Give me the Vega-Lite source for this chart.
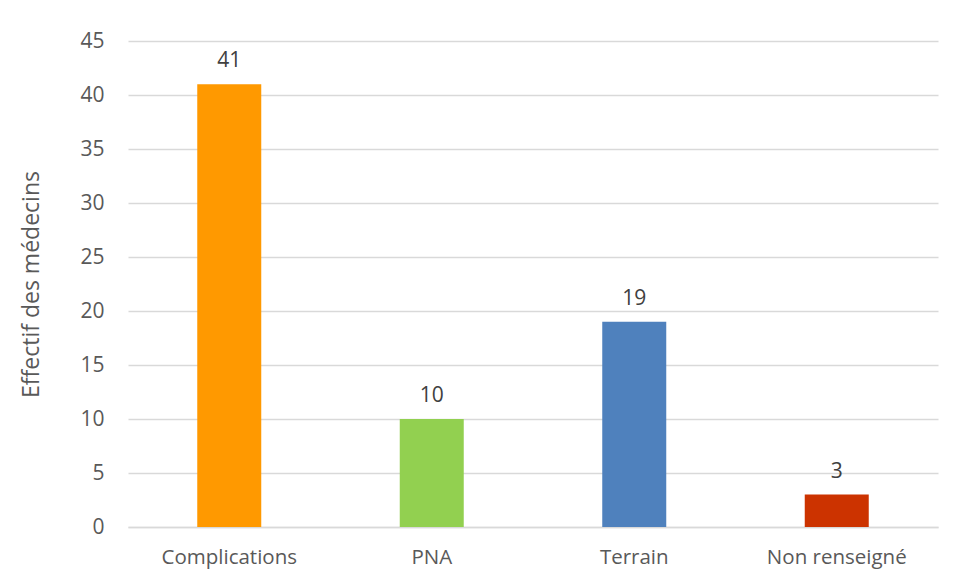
{
  "$schema": "https://vega.github.io/schema/vega-lite/v6.json",
  "autosize": "none",
  "width": 810,
  "height": 486,
  "padding": {"left": 128, "top": 41, "right": 16, "bottom": 51},
  "background": "white",
  "config": {"view": {"stroke": null}, "font": "Open Sans"},
  "data": {"values": [
    {"cat": "Complications", "n": 41, "color": "#FF9900"},
    {"cat": "PNA", "n": 10, "color": "#92D050"},
    {"cat": "Terrain", "n": 19, "color": "#4F81BD"},
    {"cat": "Non renseigné", "n": 3, "color": "#CC3300"}
  ]},
  "encoding": {
    "x": {"field": "cat", "type": "nominal", "sort": null,
      "axis": {"title": null, "labelAngle": 0, "labelFontSize": 20.5, "labelColor": "#595959", "labelPadding": 20, "ticks": false, "domainColor": "#D9D9D9", "domainWidth": 1.5, "labelFont": "Open Sans"}},
    "y": {"field": "n", "type": "quantitative", "scale": {"domain": [0, 45]},
      "axis": {"values": [0,5,10,15,20,25,30,35,40,45], "title": "Effectif des médecins", "titleFontSize": 23, "titleFontWeight": "normal", "titleColor": "#595959", "titlePadding": 36, "labelFontSize": 21, "labelColor": "#595959", "labelPadding": 24, "ticks": false, "domain": false, "gridColor": "#D9D9D9", "gridWidth": 1.5, "labelFont": "Open Sans", "titleFont": "Open Sans"}}
  },
  "layer": [
    {"mark": {"type": "bar", "width": 64}, "encoding": {"color": {"field": "color", "type": "nominal", "scale": null}}},
    {"mark": {"type": "text", "baseline": "alphabetic", "dy": -17, "fontSize": 21, "color": "#404040", "font": "Open Sans"}, "encoding": {"text": {"field": "n", "type": "quantitative"}}}
  ]
}
